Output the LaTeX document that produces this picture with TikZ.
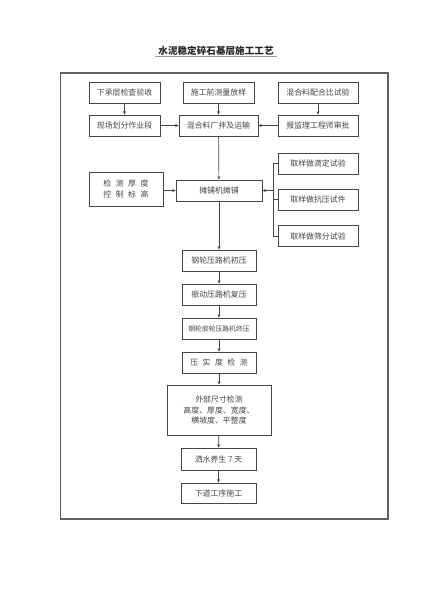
\documentclass[tikz,border=0pt]{standalone}
\usepackage{fontspec}
\newfontfamily\cjk{Noto Sans CJK SC}
\usetikzlibrary{arrows.meta}
\definecolor{ink}{HTML}{454545}
\definecolor{frame}{HTML}{606060}
\newcommand{\gapsp}{\hspace{4.5pt}}
\begin{document}
\begin{tikzpicture}[x=1pt,y=-1pt,
  box/.style={draw=ink,line width=0.8pt,minimum height=21pt,inner sep=1pt,font=\cjk\fontsize{7.9pt}{9pt}\selectfont,text=ink,align=center},
  arr/.style={draw=ink,line width=0.7pt,-{Stealth[length=3.5pt,width=3pt]}},
  ln/.style={draw=ink,line width=0.7pt}]
\useasboundingbox (0,0) rectangle (424,600);
\fill[white] (0,0) rectangle (424,600);
\node[font=\cjk\bfseries\fontsize{9.6pt}{11pt}\selectfont,text=black!85] (title) at (216,51) {水泥稳定碎石基层施工工艺};
\draw[black!40,line width=0.4pt] (155,56) -- (277,56);
\draw[frame,line width=1.3pt] (60.5,73) rectangle (388,519);
\node[box,minimum width=71pt] (b1) at (124.5,92.5) {下承层检查验收};
\node[box,minimum width=71pt] (b2) at (218.5,92.5) {施工前测量放样};
\node[box,minimum width=80pt] (b3) at (318,92.5) {混合料配合比试验};
\node[box,minimum width=71pt] (c1) at (124.5,125.5) {现场划分作业段};
\node[box,minimum width=79pt] (c2) at (218.5,125.5) {混合料厂拌及运输};
\node[box,minimum width=80pt] (c3) at (318,125.5) {报监理工程师审批};
\node[box,minimum width=74pt,minimum height=34pt,font=\cjk\fontsize{7.9pt}{11pt}\selectfont] (d1) at (126,189) {检\gapsp 测\gapsp 厚\gapsp 度\\控\gapsp 制\gapsp 标\gapsp 高};
\node[box,minimum width=86pt] (pave) at (219,190.5) {摊铺机摊铺};
\node[box,minimum width=80pt] (r1) at (318,163.5) {取样做滴定试验};
\node[box,minimum width=80pt] (r2) at (318,199.5) {取样做抗压试件};
\node[box,minimum width=80pt] (r3) at (318,236) {取样做筛分试验};
\node[box,minimum width=74pt] (e1) at (219,260.5) {钢轮压路机初压};
\node[box,minimum width=74pt] (e2) at (219,294.5) {振动压路机复压};
\node[box,minimum width=74pt,font=\cjk\fontsize{6.8pt}{9pt}\selectfont] (e3) at (219,328.5) {钢轮胶轮压路机终压};
\node[box,minimum width=74pt] (e4) at (219,362.5) {压\gapsp 实\gapsp 度\gapsp 检\gapsp 测};
\node[box,minimum width=104pt,minimum height=50pt,font=\cjk\fontsize{7.9pt}{10.5pt}\selectfont] (f) at (219,410) {外部尺寸检测\\高度、厚度、宽度、\\横坡度、平整度};
\node[box,minimum width=75pt,minimum height=22pt] (g) at (218.5,459) {洒水养生\ 7\ 天};
\node[box,minimum width=75pt,minimum height=20pt] (h) at (218.5,493) {下道工序施工};
\draw[arr] (b1) -- (c1);
\draw[arr] (b2) -- (c2);
\draw[arr] (b3) -- (c3);
\draw[arr] (c1) -- (c2);
\draw[arr] (c3) -- (c2);
\draw[arr] (c2) -- (pave);
\draw[arr] (d1.east |- pave.east) -- (pave.west);
\coordinate (br) at (273,190.5);
\draw[ln] (r1.west) -- (r1.west -| br) -- (r3.west -| br) -- (r3.west);
\draw[ln] (r2.west) -- (r2.west -| br);
\draw[arr] (br) -- (pave.east);
\draw[arr] (pave) -- (e1);
\draw[arr] (e1) -- (e2);
\draw[arr] (e2) -- (e3);
\draw[arr] (e3) -- (e4);
\draw[arr] (e4) -- (f);
\draw[arr] (f) -- (g);
\draw[arr] (g) -- (h);
\end{tikzpicture}
\end{document}
